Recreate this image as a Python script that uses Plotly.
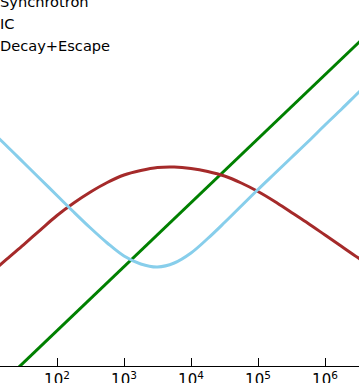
import plotly.graph_objects as go

# Energies (x) sampled every quarter decade
energy = [1.0e1, 1.778e1, 3.162e1, 5.623e1, 1.0e2, 1.778e2, 3.162e2, 5.623e2,
          1.0e3, 1.778e3, 3.162e3, 5.623e3, 1.0e4, 1.778e4, 3.162e4, 5.623e4,
          1.0e5, 1.778e5, 3.162e5, 5.623e5, 1.0e6, 1.778e6, 3.162e6, 5.623e6]

synch_x = [1.0e1, 1.0e2, 1.0e3, 1.0e4, 1.0e5, 1.0e6, 1.0e7]
synch_y = [1.0e-7, 1.0e-6, 1.0e-5, 1.0e-4, 1.0e-3, 1.0e-2, 1.0e-1]

ic_y = [7.68e-6, 1.309e-5, 2.197e-5, 3.74e-5, 6.30e-5, 9.88e-5, 1.468e-4, 2.066e-4,
        2.707e-4, 3.18e-4, 3.545e-4, 3.61e-4, 3.42e-4, 3.07e-4, 2.61e-4, 2.03e-4,
        1.495e-4, 1.043e-4, 7.02e-5, 4.73e-5, 3.126e-5, 2.066e-5, 1.366e-5, 9.19e-6]

decay_y = [1.366e-3, 7.68e-4, 4.24e-4, 2.344e-4, 1.295e-4, 7.15e-5, 4.02e-5, 2.344e-5,
           1.468e-5, 1.101e-5, 9.88e-6, 1.141e-5, 1.635e-5, 2.755e-5, 4.90e-5, 8.87e-5,
           1.606e-4, 2.856e-4, 5.08e-4, 9.03e-4, 1.635e-3, 2.908e-3, 5.265e-3, 9.363e-3]

tick_vals = [1e2, 1e3, 1e4, 1e5, 1e6]
tick_text = ["10<sup>2</sup>", "10<sup>3</sup>", "10<sup>4</sup>", "10<sup>5</sup>", "10<sup>6</sup>"]

FONT = "DejaVu Sans"

fig = go.Figure()
fig.add_trace(go.Scatter(x=synch_x, y=synch_y, mode="lines", name="Synchrotron",
                         line=dict(color="#008000", width=3)))
fig.add_trace(go.Scatter(x=energy, y=ic_y, mode="lines", name="IC",
                         line=dict(color="#A52A2A", width=3, shape="spline", smoothing=1.0)))
fig.add_trace(go.Scatter(x=energy, y=decay_y, mode="lines", name="Decay+Escape",
                         line=dict(color="#87CEEB", width=3, shape="spline", smoothing=1.0)))

fig.update_layout(
    width=359, height=383,
    margin=dict(l=0, r=0, t=0, b=17, autoexpand=False),
    paper_bgcolor="white", plot_bgcolor="white",
    font=dict(family=FONT, size=14, color="black"),
    showlegend=True,
    legend=dict(x=-40 / 359, y=1.041, xanchor="left", yanchor="top",
                bgcolor="rgba(0,0,0,0)", borderwidth=0,
                font=dict(family=FONT, size=14.6, color="black")),
    xaxis=dict(type="log", range=[1.1493, 6.5075],
               tickvals=tick_vals, ticktext=tick_text,
               ticks="inside", ticklen=8, tickwidth=1, tickcolor="black",
               showline=True, linecolor="black", linewidth=1,
               showgrid=False, zeroline=False,
               tickfont=dict(family=FONT, size=15, color="black")),
    yaxis=dict(type="log", range=[-6.552, -0.833],
               showticklabels=False, ticks="", showline=False,
               showgrid=False, zeroline=False),
)

fig.write_html("out.html",
               config={"displayModeBar": False},
               post_script="document.body.style.margin='0';document.body.style.padding='0';")
